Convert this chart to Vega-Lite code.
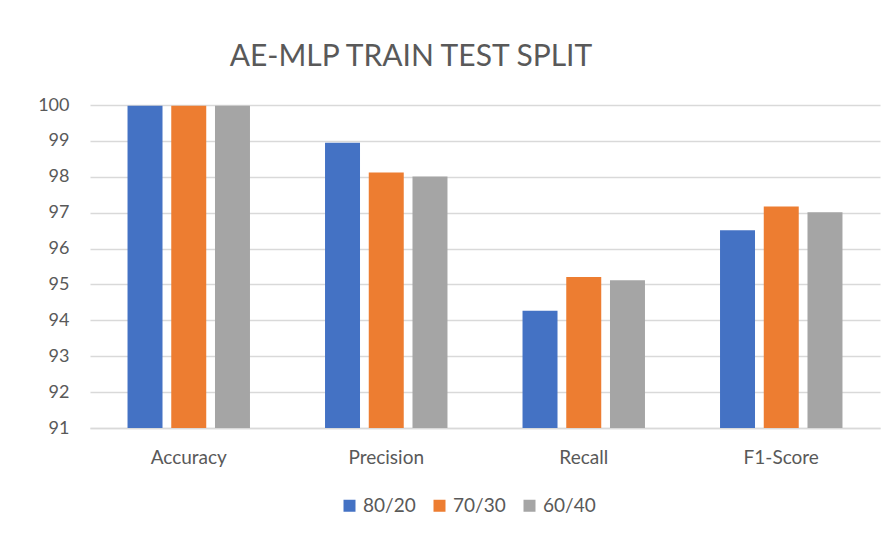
{
  "$schema": "https://vega.github.io/schema/vega-lite/v6.json",
  "width": 790,
  "height": 323,
  "autosize": "none",
  "padding": {"left": 90, "top": 105, "right": 12, "bottom": 110},
  "background": "white",
  "title": {
    "text": "AE-MLP TRAIN TEST SPLIT",
    "anchor": "start",
    "dx": 192,
    "offset": 24,
    "font": "Lato",
    "fontSize": 30,
    "fontWeight": "normal",
    "color": "#595959"
  },
  "data": {
    "values": [
      {"metric": "Accuracy", "split": "80/20", "value": 99.98},
      {"metric": "Accuracy", "split": "70/30", "value": 99.98},
      {"metric": "Accuracy", "split": "60/40", "value": 99.98},
      {"metric": "Precision", "split": "80/20", "value": 98.95},
      {"metric": "Precision", "split": "70/30", "value": 98.12},
      {"metric": "Precision", "split": "60/40", "value": 98.01},
      {"metric": "Recall", "split": "80/20", "value": 94.27},
      {"metric": "Recall", "split": "70/30", "value": 95.21},
      {"metric": "Recall", "split": "60/40", "value": 95.12},
      {"metric": "F1-Score", "split": "80/20", "value": 96.51},
      {"metric": "F1-Score", "split": "70/30", "value": 97.17},
      {"metric": "F1-Score", "split": "60/40", "value": 97.01}
    ]
  },
  "mark": {"type": "bar", "clip": true},
  "encoding": {
    "x": {
      "field": "metric",
      "type": "nominal",
      "sort": ["Accuracy", "Precision", "Recall", "F1-Score"],
      "scale": {"paddingInner": 0.38, "paddingOuter": 0.19},
      "axis": {
        "title": null,
        "labelAngle": 0,
        "labelFont": "Lato",
        "labelFontSize": 19,
        "labelColor": "#595959",
        "labelPadding": 20,
        "ticks": false,
        "domainColor": "#d9d9d9",
        "domainWidth": 1.5
      }
    },
    "xOffset": {
      "field": "split",
      "type": "nominal",
      "sort": ["80/20", "70/30", "60/40"],
      "scale": {"paddingInner": 0.2}
    },
    "y": {
      "field": "value",
      "type": "quantitative",
      "scale": {"domain": [91, 100], "zero": false, "nice": false},
      "axis": {
        "title": null,
        "values": [91, 92, 93, 94, 95, 96, 97, 98, 99, 100],
        "labelFont": "Lato",
        "labelFontSize": 18,
        "labelColor": "#595959",
        "labelPadding": 21,
        "ticks": false,
        "domain": false,
        "gridColor": "#d9d9d9",
        "gridWidth": 1.5
      }
    },
    "color": {
      "field": "split",
      "type": "nominal",
      "sort": ["80/20", "70/30", "60/40"],
      "scale": {"domain": ["80/20", "70/30", "60/40"], "range": ["#4472C4", "#ED7D31", "#A5A5A5"]},
      "legend": {
        "title": null,
        "orient": "none",
        "direction": "horizontal",
        "legendX": 250,
        "legendY": 391,
        "symbolType": "square",
        "symbolSize": 144,
        "symbolStrokeWidth": 0,
        "labelFont": "Lato",
        "labelFontSize": 19,
        "labelColor": "#595959",
        "columnPadding": 14,
        "labelOffset": 4
      }
    }
  },
  "config": {"view": {"stroke": null}}
}
